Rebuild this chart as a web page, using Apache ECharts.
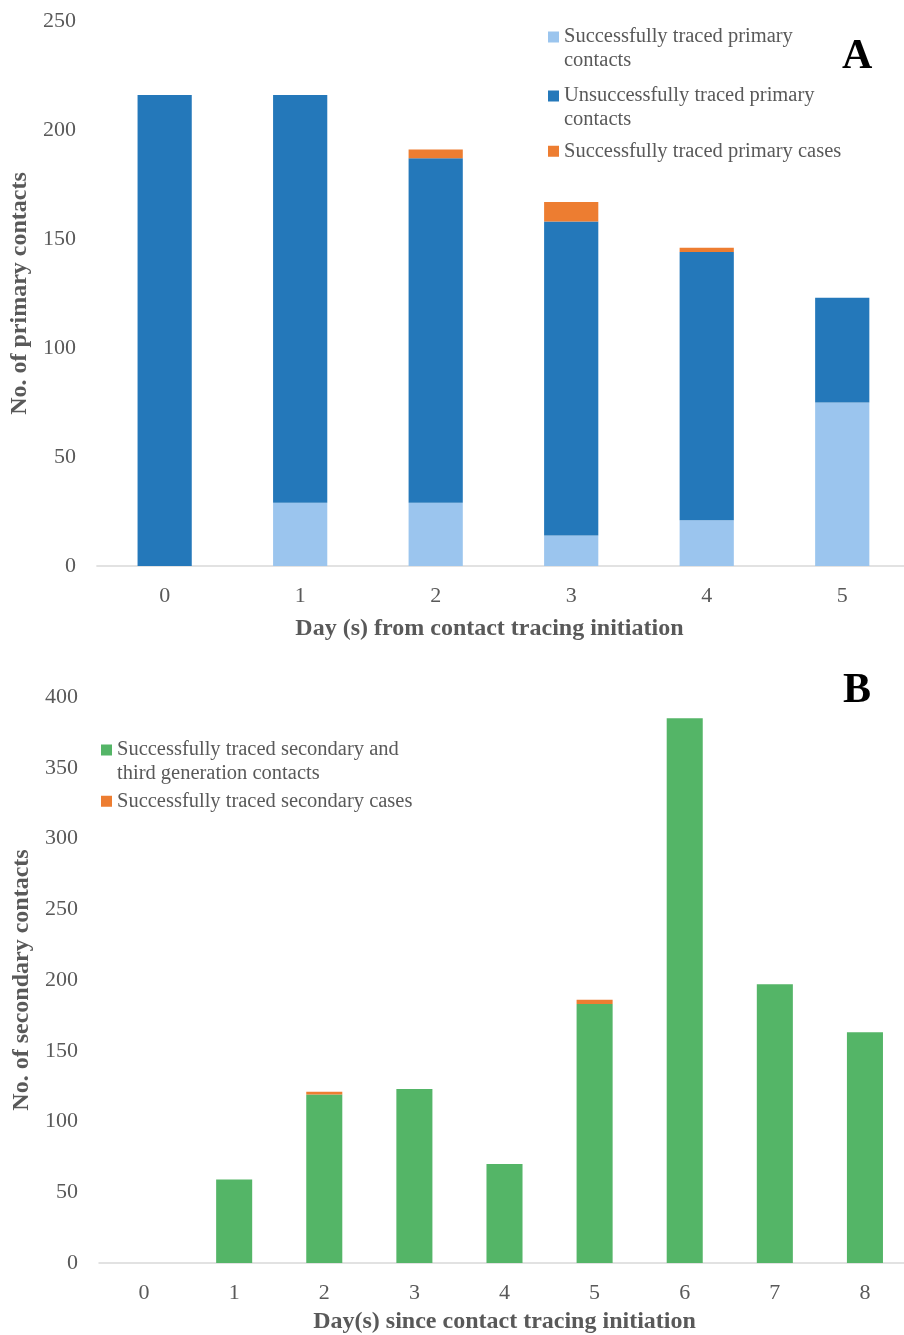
<!DOCTYPE html>
<html>
<head>
<meta charset="utf-8">
<script src="https://cdn.jsdelivr.net/npm/echarts@6/dist/echarts.min.js"></script>
<style>
  html, body { margin: 0; padding: 0; background: #fff; overflow: hidden; }
  #main { width: 920px; height: 1335px; }
</style>
</head>
<body>
<div id="main"></div>
<script>
// panel A
var daysA = ['0', '1', '2', '3', '4', '5']
var tracedPrimaryContacts = [0, 29, 29, 14, 21, 75]
var untracedPrimaryContacts = [216, 187, 158, 144, 123, 48]
var tracedPrimaryCases = [0, 0, 4, 9, 2, 0]
var ticksA = [0, 50, 100, 150, 200, 250]

// panel B
var daysB = ['0', '1', '2', '3', '4', '5', '6', '7', '8']
var tracedSecondaryContacts = [0, 59, 119, 123, 70, 183, 385, 197, 163]
var tracedSecondaryCases = [0, 0, 2, 0, 0, 3, 0, 0, 0]
var ticksB = [0, 50, 100, 150, 200, 250, 300, 350, 400]

var nameA1 = 'Successfully traced primary\ncontacts'
var nameA2 = 'Unsuccessfully traced primary\ncontacts'
var nameA3 = 'Successfully traced primary cases'
var nameB1 = 'Successfully traced secondary and\nthird generation contacts'
var nameB2 = 'Successfully traced secondary cases'

var serif = '"Liberation Serif", "Times New Roman", serif'
var grey = '#595959'

// square sits on the first text line of a two-line legend entry
var iconTop = 'path://M0,0H11V11H0Z M0,33.99h0.01v0.01h-0.01Z'

function valueAxis (gridIndex, ticks, name) {
  return {
    type: 'value',
    gridIndex: gridIndex,
    min: ticks[0],
    max: ticks[ticks.length - 1],
    interval: ticks[1] - ticks[0],
    name: name,
    nameLocation: 'middle',
    nameGap: 62,
    nameTextStyle: { fontFamily: serif, fontWeight: 'bold', fontSize: 24, color: grey },
    axisLine: { show: false },
    axisTick: { show: false },
    splitLine: { show: false },
    axisLabel: { fontFamily: serif, fontSize: 22, color: grey, margin: 21 }
  }
}

function categoryAxis (gridIndex, cats, name, gap, pad) {
  return {
    type: 'category',
    gridIndex: gridIndex,
    data: cats,
    name: name,
    nameLocation: 'middle',
    nameGap: gap,
    nameTextStyle: { fontFamily: serif, fontWeight: 'bold', fontSize: 24, color: grey, padding: pad },
    axisLine: { lineStyle: { color: '#d9d9d9', width: 1.5 } },
    axisTick: { show: false },
    axisLabel: { fontFamily: serif, fontSize: 22, color: grey, margin: 19 }
  }
}

var legendText = { fontFamily: serif, fontSize: 20.5, color: grey, lineHeight: 23.5 }

function legendBlock (left, top, names, twoLine) {
  return {
    orient: 'vertical',
    left: left,
    top: top,
    padding: 0,
    itemWidth: 11,
    itemHeight: twoLine ? 34 : 11,
    itemGap: twoLine ? 12 : 10,
    textStyle: legendText,
    data: names.map(function (n) { return twoLine ? { name: n, icon: iconTop } : { name: n, icon: 'rect' } })
  }
}

var chart = echarts.init(document.getElementById('main'))
chart.setOption({
  animation: false,
  grid: [
    { left: 94, top: 21, width: 816, height: 545 },
    { left: 99, top: 697, width: 811, height: 568 }
  ],
  legend: [
    legendBlock(548, 25, [nameA1, nameA2], true),
    legendBlock(548, 139.5, [nameA3], false),
    legendBlock(101, 738, [nameB1], true),
    legendBlock(101, 789.5, [nameB2], false)
  ],
  xAxis: [
    categoryAxis(0, daysA, 'Day (s) from contact tracing initiation', 51, [0, 28, 0, 0]),
    categoryAxis(1, daysB, 'Day(s) since contact tracing initiation', 47, 0)
  ],
  yAxis: [
    valueAxis(0, ticksA, 'No. of primary contacts'),
    valueAxis(1, ticksB, 'No. of secondary contacts')
  ],
  series: [
    {
      name: nameA1, type: 'bar', stack: 'a', xAxisIndex: 0, yAxisIndex: 0,
      barWidth: '40%', itemStyle: { color: '#9bc5ee' }, data: tracedPrimaryContacts
    },
    {
      name: nameA2, type: 'bar', stack: 'a', xAxisIndex: 0, yAxisIndex: 0,
      barWidth: '40%', itemStyle: { color: '#2478ba' }, data: untracedPrimaryContacts
    },
    {
      name: nameA3, type: 'bar', stack: 'a', xAxisIndex: 0, yAxisIndex: 0,
      barWidth: '40%', itemStyle: { color: '#ed7d31' }, data: tracedPrimaryCases
    },
    {
      name: nameB1, type: 'bar', stack: 'b', xAxisIndex: 1, yAxisIndex: 1,
      barWidth: '40%', itemStyle: { color: '#54b567' }, data: tracedSecondaryContacts
    },
    {
      name: nameB2, type: 'bar', stack: 'b', xAxisIndex: 1, yAxisIndex: 1,
      barWidth: '40%', itemStyle: { color: '#ed7d31' }, data: tracedSecondaryCases
    }
  ],
  graphic: [
    {
      type: 'text', left: 842, top: 36,
      style: { text: 'A', font: 'bold 42px ' + serif, fill: '#000' }
    },
    {
      type: 'text', left: 843, top: 670,
      style: { text: 'B', font: 'bold 42px ' + serif, fill: '#000' }
    }
  ]
})
</script>
</body>
</html>
